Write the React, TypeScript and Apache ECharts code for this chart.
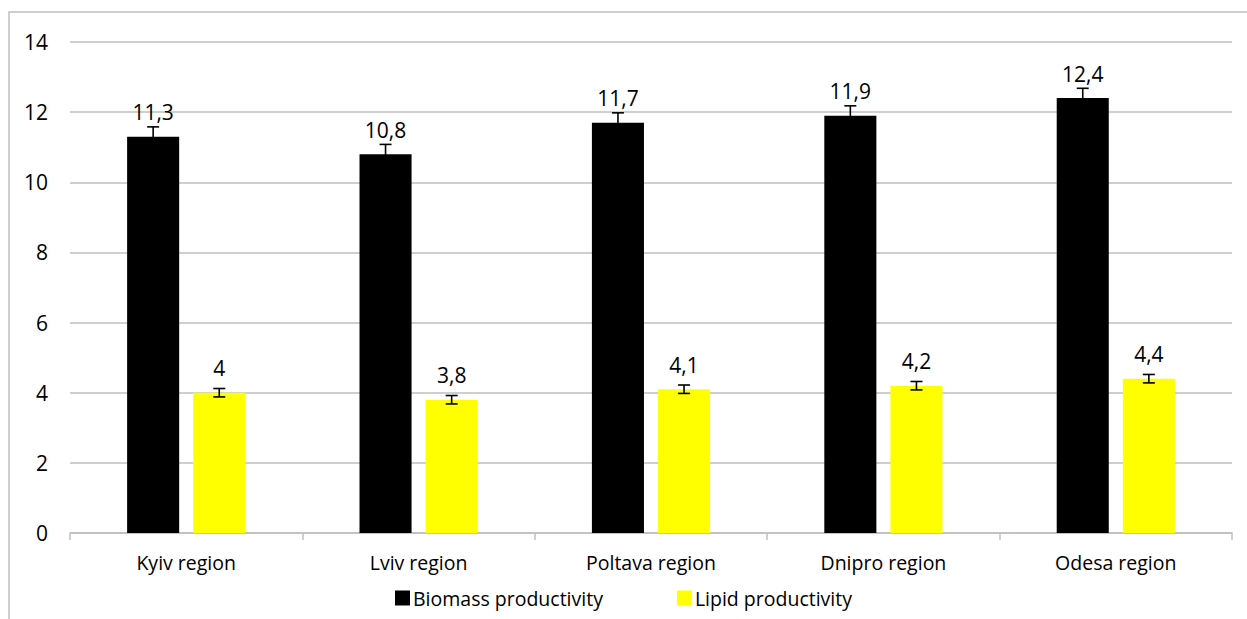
import React, { useEffect, useRef } from "react";
import * as echarts from "echarts";

const categories = ["Kyiv region", "Lviv region", "Poltava region", "Dnipro region", "Odesa region"];
const biomass = [11.3, 10.8, 11.7, 11.9, 12.4];
const lipid = [4, 3.8, 4.1, 4.2, 4.4];
const biomassErr = [0.28, 0.28, 0.28, 0.28, 0.28];
const lipidErr = [0.12, 0.12, 0.12, 0.12, 0.12];
const seriesNames = ["Biomass productivity", "Lipid productivity"];

const FONT = "'Open Sans', 'Liberation Sans', sans-serif";
const BAR_W = 0.224;
const BAR_GAP = 0.27;

function errorSeries(values: number[], errs: number[], side: number) {
  return {
    type: "custom",
    z: 10,
    silent: true,
    data: values.map((v, i) => [i, v, errs[i]]),
    encode: { x: 0, y: 1 },
    renderItem: (params: any, api: any) => {
      const idx = api.value(0);
      const v = api.value(1);
      const e = api.value(2);
      const band = api.size([1, 0])[0];
      const bw = band * BAR_W;
      const off = (side * (bw + bw * BAR_GAP)) / 2;
      const top = api.coord([idx, v + e]);
      const bot = api.coord([idx, v - e]);
      const x = top[0] + off;
      const cap = 6;
      const style = { stroke: "#000", lineWidth: 1.6 };
      return {
        type: "group",
        children: [
          { type: "line", shape: { x1: x, y1: top[1], x2: x, y2: bot[1] }, style },
          { type: "line", shape: { x1: x - cap, y1: top[1], x2: x + cap, y2: top[1] }, style },
          { type: "line", shape: { x1: x - cap, y1: bot[1], x2: x + cap, y2: bot[1] }, style },
        ],
      };
    },
  };
}

export default function App() {
  const ref = useRef<HTMLDivElement>(null);
  useEffect(() => {
    if (!ref.current) return;
    const chart = echarts.init(ref.current, null, { renderer: "svg" });
    const labelCfg = {
      show: true,
      position: "top",
      distance: 14,
      color: "#000",
      fontFamily: FONT,
      fontSize: 21,
      formatter: (p: any) => String(p.value).replace(".", ","),
    };
    chart.setOption({
      animation: false,
      textStyle: { fontFamily: FONT },
      graphic: [
        {
          type: "rect",
          shape: { x: 9, y: 12, width: 1400, height: 800 },
          style: { fill: "none", stroke: "#bfbfbf", lineWidth: 1.5 },
          silent: true,
          z: -10,
        },
      ],
      grid: { left: 70, right: 15, top: 42, bottom: 86, containLabel: false },
      legend: {
        data: seriesNames,
        left: "center",
        top: 588,
        padding: 0,
        icon: "rect",
        itemWidth: 15,
        itemHeight: 15,
        itemGap: 74,
        textStyle: { fontFamily: FONT, fontSize: 19.5, color: "#000", padding: [0, 0, 0, -2] },
      },
      xAxis: {
        type: "category",
        data: categories,
        axisLine: { show: true, lineStyle: { color: "#bfbfbf", width: 1.5 } },
        axisTick: { show: true, length: 7, lineStyle: { color: "#bfbfbf", width: 1.5 } },
        axisLabel: { fontFamily: FONT, fontSize: 19.5, color: "#000", margin: 19 },
      },
      yAxis: {
        type: "value",
        min: 0,
        max: 14,
        interval: 2,
        axisLine: { show: false },
        axisTick: { show: false },
        splitLine: { lineStyle: { color: "#bfbfbf", width: 1.5 } },
        axisLabel: { fontFamily: FONT, fontSize: 21, color: "#000", margin: 22 },
      },
      series: [
        {
          name: seriesNames[0],
          type: "bar",
          data: biomass,
          barWidth: BAR_W * 100 + "%",
          barGap: BAR_GAP * 100 + "%",
          itemStyle: { color: "#000000" },
          label: labelCfg,
        },
        {
          name: seriesNames[1],
          type: "bar",
          data: lipid,
          barWidth: BAR_W * 100 + "%",
          barGap: BAR_GAP * 100 + "%",
          itemStyle: { color: "#ffff00" },
          label: labelCfg,
        },
        errorSeries(biomass, biomassErr, -1),
        errorSeries(lipid, lipidErr, 1),
      ],
    });
    return () => chart.dispose();
  }, []);
  return (
    <div
      ref={ref}
      style={{ position: "absolute", left: 0, top: 0, width: 1247, height: 619, background: "#fff" }}
    />
  );
}
